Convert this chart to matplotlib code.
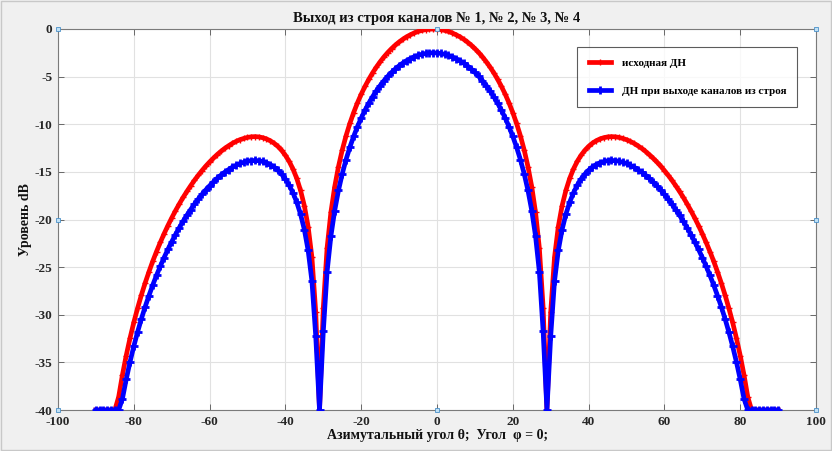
import matplotlib
matplotlib.use("Agg")
import matplotlib.pyplot as plt
from matplotlib.patches import Rectangle

# ---------------- data ----------------
angles = list(range(-90, 91))

red_db = [
    -40.00, -40.00, -40.00, -40.00, -40.00, -40.00,
    -38.64, -36.32, -34.28, -32.46, -30.81, -29.31, -27.93, -26.66, -25.49, -24.38,
    -23.36, -22.40, -21.49, -20.64, -19.84, -19.08, -18.37, -17.69, -17.06, -16.46,
    -15.89, -15.36, -14.86, -14.39, -13.96, -13.56, -13.18, -12.84, -12.53, -12.26,
    -12.01, -11.80, -11.62, -11.49, -11.38, -11.32, -11.30, -11.33, -11.41, -11.54,
    -11.73, -11.99, -12.32, -12.74, -13.26, -13.90, -14.70, -15.69, -16.95, -18.56,
    -20.75, -23.98, -29.73, -40.00, -29.25, -22.98, -19.26, -16.57, -14.45, -12.70,
    -11.21, -9.92, -8.78, -7.76, -6.85, -6.03, -5.29, -4.61, -4.00, -3.44,
    -2.93, -2.47, -2.06, -1.69, -1.36, -1.07, -0.81, -0.60, -0.41, -0.26,
    -0.15, -0.07, -0.02, 0.00,
    -0.02, -0.07, -0.15, -0.26, -0.41, -0.60, -0.81, -1.07, -1.36, -1.69,
    -2.06, -2.47, -2.93, -3.44, -4.00, -4.61, -5.29, -6.03, -6.85, -7.76,
    -8.78, -9.92, -11.21, -12.70, -14.45, -16.57, -19.26, -22.98, -29.25, -40.00,
    -29.73, -23.98, -20.75, -18.56, -16.95, -15.69, -14.70, -13.90, -13.26, -12.74,
    -12.32, -11.99, -11.73, -11.54, -11.41, -11.33, -11.30, -11.32, -11.38, -11.49,
    -11.62, -11.80, -12.01, -12.26, -12.53, -12.84, -13.18, -13.56, -13.96, -14.39,
    -14.86, -15.36, -15.89, -16.46, -17.06, -17.69, -18.37, -19.08, -19.84, -20.64,
    -21.49, -22.40, -23.36, -24.38, -25.49, -26.66, -27.93, -29.31, -30.81, -32.46,
    -34.28, -36.32, -38.64,
    -40.00, -40.00, -40.00, -40.00, -40.00, -40.00, -40.00, -40.00,
]

blue_db = [
    -40.00, -40.00, -40.00, -40.00, -40.00, -40.00, -40.00,
    -38.82, -36.78, -34.96, -33.31, -31.81, -30.43, -29.16, -27.99, -26.88, -25.86,
    -24.90, -23.99, -23.14, -22.34, -21.58, -20.87, -20.19, -19.56, -18.96, -18.39,
    -17.86, -17.36, -16.89, -16.46, -16.06, -15.68, -15.34, -15.03, -14.76, -14.51,
    -14.30, -14.12, -13.99, -13.88, -13.82, -13.80, -13.83, -13.91, -14.04, -14.23,
    -14.49, -14.82, -15.24, -15.76, -16.40, -17.20, -18.19, -19.45, -21.06, -23.25,
    -26.48, -32.23, -40.00, -31.75, -25.48, -21.76, -19.07, -16.95, -15.20, -13.71,
    -12.42, -11.28, -10.26, -9.35, -8.53, -7.79, -7.11, -6.50, -5.94, -5.43,
    -4.97, -4.56, -4.19, -3.86, -3.57, -3.31, -3.10, -2.91, -2.76, -2.65,
    -2.57, -2.52, -2.50,
    -2.52, -2.57, -2.65, -2.76, -2.91, -3.10, -3.31, -3.57, -3.86, -4.19,
    -4.56, -4.97, -5.43, -5.94, -6.50, -7.11, -7.79, -8.53, -9.35, -10.26,
    -11.28, -12.42, -13.71, -15.20, -16.95, -19.07, -21.76, -25.48, -31.75, -40.00,
    -32.23, -26.48, -23.25, -21.06, -19.45, -18.19, -17.20, -16.40, -15.76, -15.24,
    -14.82, -14.49, -14.23, -14.04, -13.91, -13.83, -13.80, -13.82, -13.88, -13.99,
    -14.12, -14.30, -14.51, -14.76, -15.03, -15.34, -15.68, -16.06, -16.46, -16.89,
    -17.36, -17.86, -18.39, -18.96, -19.56, -20.19, -20.87, -21.58, -22.34, -23.14,
    -23.99, -24.90, -25.86, -26.88, -27.99, -29.16, -30.43, -31.81, -33.31, -34.96,
    -36.78, -38.82,
    -40.00, -40.00, -40.00, -40.00, -40.00, -40.00, -40.00, -40.00, -40.00,
]

x_ticks = [-100, -80, -60, -40, -20, 0, 20, 40, 60, 80, 100]
y_ticks = [0, -5, -10, -15, -20, -25, -30, -35, -40]

# small data-tip markers visible on the axes frame
tip_x = [-100, -100, -100, 0, 0, 100, 100, 100]
tip_y = [0, -20, -40, 0, -40, 0, -20, -40]

title_text = "Выход из строя каналов № 1, № 2, № 3, № 4"
xlabel_text = "Азимутальный угол θ;  Угол  φ = 0;"
ylabel_text = "Уровень dB"
legend_labels = ["исходная ДН", "ДН при выходе каналов из строя"]

# ---------------- plot ----------------
FONT = ["Liberation Serif", "DejaVu Serif"]
plt.rcParams["font.family"] = FONT
plt.rcParams["font.weight"] = "bold"

fig = plt.figure(figsize=(8.32, 4.51), dpi=100, facecolor="#f0f0f0")
fig.patches.append(Rectangle((0.001, 0.002), 0.998, 0.996, transform=fig.transFigure,
                             fill=False, edgecolor="#c8c8c8", lw=1.0))
ax = fig.add_axes([0.0697, 0.0909, 0.9111, 0.8448])
ax.set_facecolor("white")

ax.plot(angles, red_db, color="#ff0000", lw=3.4, marker="+", ms=5, mew=1.0,
        label=legend_labels[0], zorder=3)
ax.plot(angles, blue_db, color="#0000ff", lw=3.4, marker="+", ms=6, mew=2.0,
        label=legend_labels[1], zorder=4)

ax.plot(tip_x, tip_y, linestyle="none", marker="s", ms=3.5, mfc="#bfe0f5",
        mec="#4a90c8", mew=0.6, zorder=6, clip_on=False)

ax.set_xlim(-100, 100)
ax.set_ylim(-40, 0)
ax.set_xticks(x_ticks)
ax.set_yticks(y_ticks)
ax.set_xticklabels([str(v) for v in x_ticks])
ax.set_yticklabels([str(v) for v in y_ticks])
ax.tick_params(direction="in", length=4, width=0.6, color="#555555",
               top=True, right=True, labelsize=9.5, pad=4)
for lab in ax.get_xticklabels() + ax.get_yticklabels():
    lab.set_fontweight("bold")
    lab.set_color("#262626")

ax.grid(True, color="#e1e1e1", lw=0.8)
ax.set_axisbelow(True)
for sp in ax.spines.values():
    sp.set_color("#7a7a7a")
    sp.set_linewidth(0.8)

ax.set_title(title_text, fontsize=10.5, fontweight="bold", pad=5, color="#111111")
ax.set_xlabel(xlabel_text, fontsize=10, fontweight="bold", labelpad=1, color="#111111")
ax.set_ylabel(ylabel_text, fontsize=10, fontweight="bold", labelpad=2, color="#111111")

leg = ax.legend(loc="upper right", bbox_to_anchor=(0.9755, 0.952), fontsize=8,
                frameon=True, fancybox=False, edgecolor="#333333",
                borderpad=1.0, labelspacing=1.6, handlelength=2.0,
                handletextpad=1.0, borderaxespad=0)
leg.get_frame().set_linewidth(0.8)
for t in leg.get_texts():
    t.set_fontweight("bold")

fig.savefig("out.png", dpi=100, facecolor=fig.get_facecolor())
